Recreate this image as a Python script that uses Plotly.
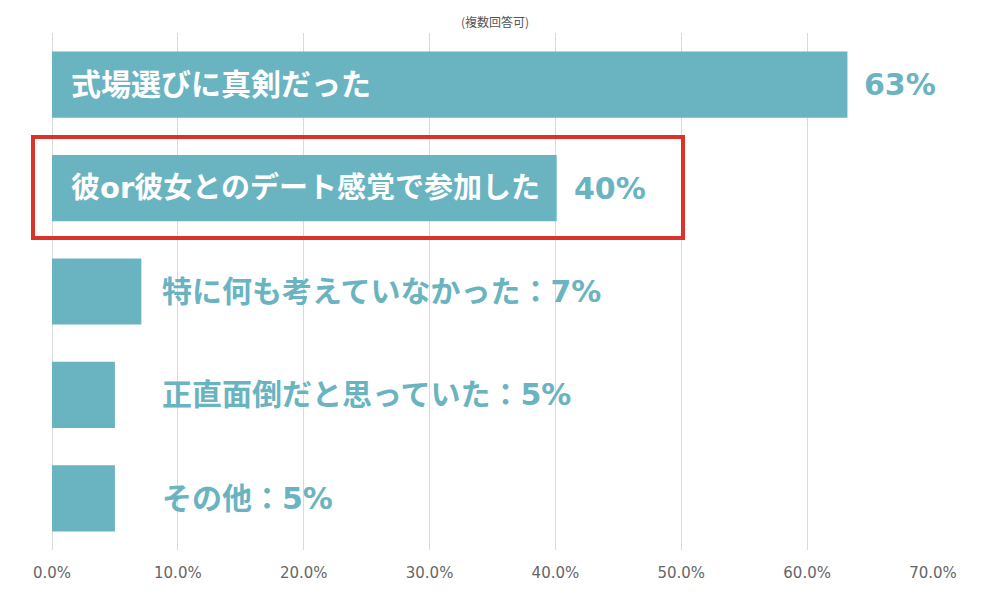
import plotly.graph_objects as go

categories = ["式場選びに真剣だった", "彼or彼女とのデート感覚で参加した",
              "特に何も考えていなかった", "正直面倒だと思っていた", "その他"]
values = [63.2, 40.1, 7.1, 5.0, 5.0]
value_labels = ["63%", "40%", "7%", "5%", "5%"]
tick_vals = [0, 10, 20, 30, 40, 50, 60, 70]
tick_text = ["0.0%", "10.0%", "20.0%", "30.0%", "40.0%", "50.0%", "60.0%", "70.0%"]
title_text = "(複数回答可)"

BAR = "#6ab4c1"
TEAL = "#6ab4c1"
JP = "DejaVu Sans, Noto Sans CJK JP"

ypos = list(range(len(categories)))
inside_sizes = [30, 29, 30, 30, 30]

fig = go.Figure(go.Bar(
    x=values, y=ypos, orientation="h",
    marker=dict(color=BAR, line=dict(width=0)),
    width=0.64, hoverinfo="skip",
))

annotations = []
for i, (cat, v, lab) in enumerate(zip(categories, values, value_labels)):
    if v > 20:
        annotations.append(dict(x=0, y=i, xref="x", yref="y", text="<b>" + cat + "</b>",
                                showarrow=False, xanchor="left", yanchor="middle", xshift=17,
                                font=dict(family=JP, size=inside_sizes[i], color="white")))
        annotations.append(dict(x=v, y=i, xref="x", yref="y", text="<b>" + lab + "</b>",
                                showarrow=False, xanchor="left", yanchor="middle", xshift=15,
                                font=dict(family=JP, size=30, color=TEAL)))
    else:
        annotations.append(dict(x=0, y=i, xref="x", yref="y", text="<b>" + cat + "：" + lab + "</b>",
                                showarrow=False, xanchor="left", yanchor="middle", xshift=108,
                                font=dict(family=JP, size=30, color=TEAL)))

annotations.append(dict(x=0.503, y=1.0, xref="paper", yref="paper", text=title_text,
                        showarrow=False, xanchor="center", yanchor="bottom", yshift=1,
                        font=dict(family="Noto Sans CJK JP", size=12, color="#555555")))

fig.update_layout(
    width=990, height=604,
    margin=dict(l=44, r=65, t=25, b=62),
    paper_bgcolor="white", plot_bgcolor="white",
    showlegend=False,
    bargap=0.36,
    xaxis=dict(range=[0, 70], tickvals=tick_vals, ticktext=tick_text,
               showgrid=True, gridcolor="#d9d9d9", gridwidth=1, zeroline=True,
               zerolinecolor="#d9d9d9", zerolinewidth=1, showline=False,
               tickfont=dict(family="DejaVu Sans", size=15, color="#666666"),
               ticks="", ticklabelstandoff=12, fixedrange=True),
    yaxis=dict(range=[4.5, -0.5], showticklabels=False, showgrid=False,
               zeroline=False, showline=False, fixedrange=True),
    annotations=annotations,
    shapes=[dict(type="rect", xref="paper", yref="paper",
                 x0=-19 / 881, x1=631 / 881, y0=(550 - 238) / 517, y1=(550 - 137) / 517,
                 line=dict(color="#d8342a", width=4), fillcolor="rgba(0,0,0,0)")],
)

fig.write_html("out.html")
